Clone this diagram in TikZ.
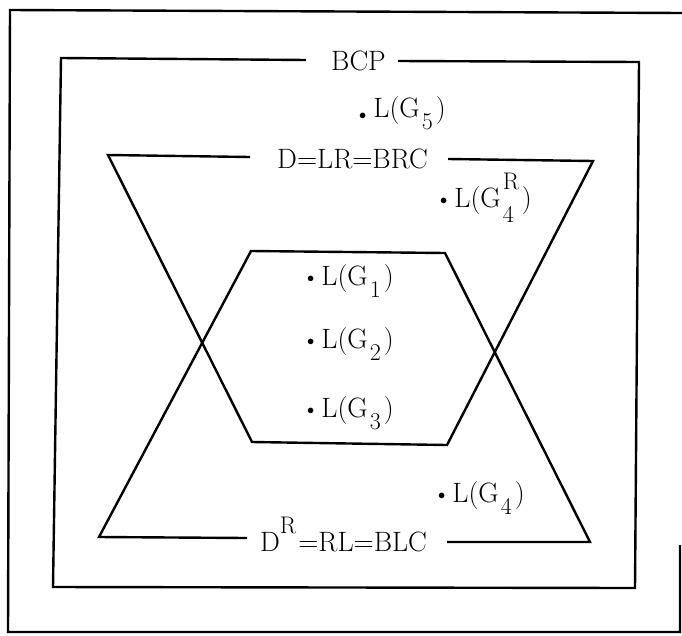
\documentclass[tikz,border=0pt]{standalone}
\usepackage{fontspec}
\newcommand{\sz}{\fontsize{24}{24}\selectfont}
\newcommand{\sbs}[1]{\kern2pt\raisebox{-12pt}{\sz #1}\kern3pt}
\newcommand{\sps}[1]{\raisebox{18pt}{\sz #1}}
\newcommand{\cdt}{\raisebox{2.5pt}{$\scriptscriptstyle\bullet$}}
\newcommand{\ldt}{\raisebox{-2pt}{$\scriptscriptstyle\bullet$}}
\begin{document}
\begin{tikzpicture}[x=1pt,y=-1pt,line width=2.4pt,line join=miter,
  lab/.style={anchor=base west,inner sep=0pt,font=\fontsize{28}{30}\selectfont},
  frame/.style={line width=2.4pt}]
\useasboundingbox (0,0) rectangle (682,635);
% outer frame
\draw[frame] (682,13) -- (10,10) -- (8,632) -- (680,632) -- (680,545);
% labels
\node[lab] (bcp) at (330,70) {BCP};
\node[lab] (d) at (276,168) {D=LR=BRC};
\node[lab] (dr) at (259,551) {D\sps{R}\kern2pt=RL=BLC};
\node[lab] (g5) at (358,117) {\ldt\kern7pt L(G\sbs{5})};
\node[lab] (g4r) at (439,207) {\cdt\kern7pt L(G\kern2pt\rlap{\sps{R}}\raisebox{-15pt}{\makebox[19pt][l]{\sz 4}})};
\node[lab] (g1) at (306,285) {\cdt\kern7pt L(G\sbs{1})};
\node[lab] (g2) at (306,348) {\cdt\kern7pt L(G\sbs{2})};
\node[lab] (g3) at (306,417) {\cdt\kern7pt L(G\sbs{3})};
\node[lab] (g4) at (437,502) {\cdt\kern7pt L(G\sbs{4})};
% BCP box
\draw[frame] (306,60) -- (61,58) -- (53,587) -- (635,588) -- (639,62) -- (398,61);
% D trapezoid
\draw (250,157) -- (108,155) -- (252,442) -- (447,445) -- (593,161) -- (448,159);
% D^R trapezoid
\draw (247,538) -- (99,537) -- (251,251) -- (445,253) -- (590,542) -- (447,542);
\end{tikzpicture}
\end{document}
